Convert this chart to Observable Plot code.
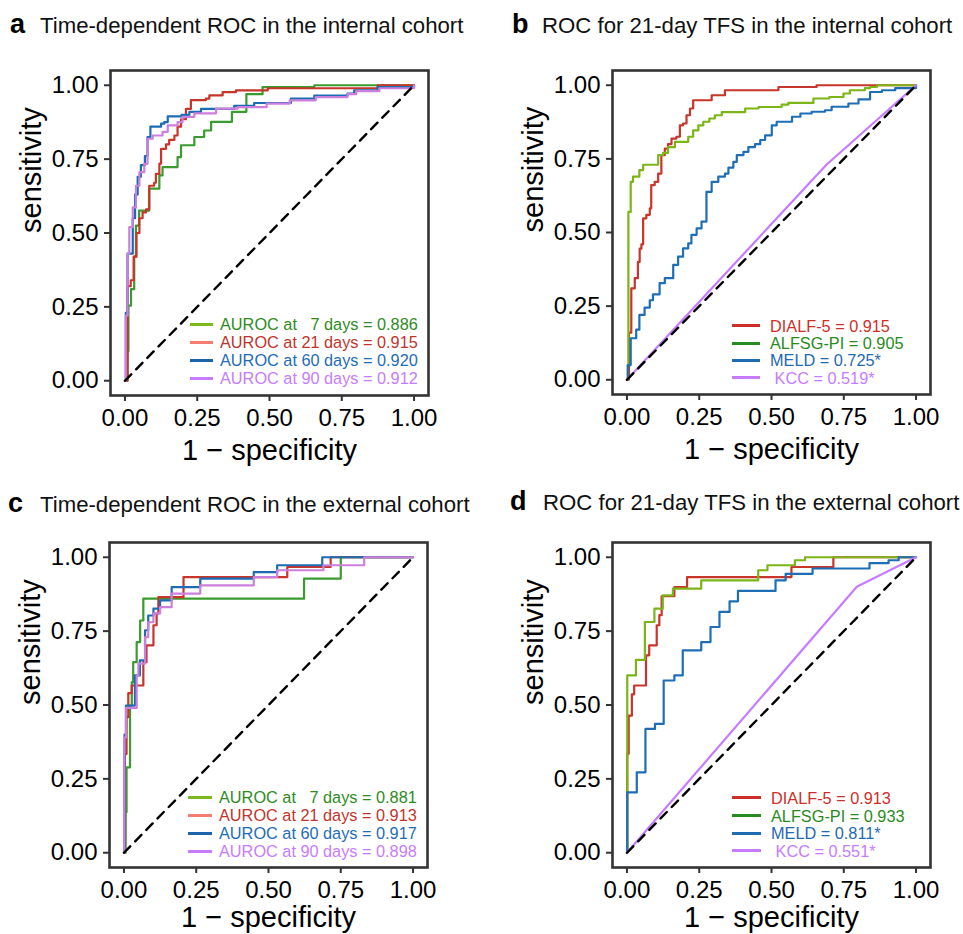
<!DOCTYPE html>
<html>
<head>
<meta charset="utf-8">
<script src="https://cdn.jsdelivr.net/npm/d3@7"></script>
<script src="https://cdn.jsdelivr.net/npm/@observablehq/plot@0.6"></script>
<style>
  body { margin: 0; background: #fff; }
  #wrap { position: relative; width: 963px; height: 934px; overflow: hidden; background: #fff;
          font-family: "Liberation Sans", Arial, Helvetica, sans-serif; }
  .panel { position: absolute; }
  .letter { position: absolute; font-size: 27px; font-weight: bold; line-height: 1; color: #000; }
  .title { position: absolute; font-size: 22.2px; line-height: 1; color: #111; white-space: nowrap; }
  .legend { position: absolute; font-size: 16.3px; }
  .legend .row { display: flex; align-items: center; height: 18px; line-height: 18px; white-space: pre; }
  .legend .sw { display: inline-block; height: 3px; }
</style>
</head>
<body>
<div id="wrap"></div>
<script>
// ---------- data ----------
const xTicks = [0, 0.25, 0.5, 0.75, 1];
const yTicks = [0, 0.25, 0.5, 0.75, 1];
const tickLabels = ["0.00", "0.25", "0.50", "0.75", "1.00"];
const xTitle = "1 \u2212 specificity";
const yTitle = "sensitivity";
const diagonal = [[0, 0], [1, 1]];

const panelLetters = ["a", "b", "c", "d"];
const panelTitles = [
  "Time-dependent ROC in the internal cohort",
  "ROC for 21-day TFS in the internal cohort",
  "Time-dependent ROC in the external cohort",
  "ROC for 21-day TFS in the external cohort"
];

// Panel a: time-dependent ROC, internal cohort  [1 - specificity, sensitivity]
const a7 = [[0,0],[0.009,0.10],[0.012,0.254],[0.021,0.31],[0.032,0.42],[0.038,0.525],[0.049,0.576],[0.084,0.65],[0.119,0.695],[0.13,0.723],[0.182,0.757],[0.194,0.797],[0.24,0.825],[0.274,0.847],[0.298,0.876],[0.37,0.91],[0.42,0.97],[0.476,0.994],[0.655,1],[1,1]];
const a21 = [[0,0],[0.009,0.32],[0.02,0.34],[0.03,0.42],[0.04,0.50],[0.05,0.55],[0.061,0.57],[0.073,0.58],[0.084,0.66],[0.101,0.67],[0.107,0.70],[0.119,0.735],[0.125,0.785],[0.142,0.80],[0.153,0.815],[0.171,0.83],[0.182,0.86],[0.194,0.885],[0.211,0.92],[0.228,0.95],[0.28,0.955],[0.292,0.966],[0.338,0.977],[0.384,0.983],[0.494,0.99],[0.874,1],[1,1]];
const a60 = [[0,0],[0.003,0.23],[0.009,0.43],[0.027,0.55],[0.035,0.63],[0.044,0.69],[0.055,0.73],[0.069,0.76],[0.078,0.825],[0.088,0.86],[0.125,0.87],[0.136,0.875],[0.148,0.895],[0.196,0.90],[0.223,0.91],[0.263,0.92],[0.378,0.93],[0.447,0.94],[0.574,0.955],[0.655,0.965],[0.77,0.972],[0.793,0.983],[0.874,0.994],[1,1]];
const a90 = [[0,0],[0.003,0.22],[0.009,0.43],[0.015,0.52],[0.027,0.587],[0.038,0.66],[0.05,0.706],[0.067,0.734],[0.078,0.819],[0.096,0.83],[0.13,0.842],[0.148,0.864],[0.182,0.875],[0.199,0.893],[0.24,0.905],[0.315,0.921],[0.39,0.926],[0.49,0.938],[0.57,0.949],[0.66,0.96],[0.77,0.97],[0.80,0.98],[0.88,0.99],[1,1]];

// Panel b: 21-day TFS, internal cohort
const bDialf = [[0,0],[0.007,0.16],[0.015,0.31],[0.027,0.345],[0.038,0.40],[0.044,0.445],[0.05,0.46],[0.056,0.548],[0.067,0.56],[0.079,0.582],[0.084,0.661],[0.096,0.672],[0.108,0.70],[0.119,0.763],[0.131,0.785],[0.142,0.80],[0.154,0.819],[0.171,0.825],[0.183,0.864],[0.194,0.87],[0.206,0.898],[0.218,0.921],[0.229,0.949],[0.293,0.966],[0.339,0.983],[0.524,0.994],[0.656,1],[1,1]];
const bAlfsg = [[0,0],[0.003,0.05],[0.005,0.57],[0.013,0.672],[0.021,0.69],[0.043,0.712],[0.056,0.73],[0.108,0.763],[0.125,0.77],[0.142,0.79],[0.166,0.808],[0.212,0.825],[0.229,0.847],[0.247,0.864],[0.264,0.876],[0.285,0.887],[0.304,0.898],[0.328,0.909],[0.409,0.921],[0.455,0.926],[0.535,0.934],[0.558,0.94],[0.645,0.955],[0.70,0.96],[0.749,0.972],[0.771,0.983],[0.823,0.99],[0.841,0.994],[0.865,1],[1,1]];
const bMeld = [[0,0],[0.003,0.05],[0.013,0.141],[0.032,0.17],[0.043,0.22],[0.061,0.245],[0.079,0.27],[0.09,0.29],[0.113,0.328],[0.131,0.345],[0.16,0.39],[0.177,0.418],[0.194,0.446],[0.212,0.463],[0.223,0.492],[0.241,0.514],[0.258,0.537],[0.275,0.638],[0.293,0.672],[0.316,0.69],[0.339,0.70],[0.351,0.72],[0.368,0.74],[0.38,0.763],[0.403,0.774],[0.42,0.79],[0.443,0.80],[0.461,0.814],[0.478,0.83],[0.501,0.864],[0.518,0.876],[0.571,0.893],[0.60,0.904],[0.639,0.91],[0.685,0.915],[0.708,0.927],[0.766,0.938],[0.801,0.952],[0.841,0.977],[0.882,0.983],[0.928,0.99],[1,1]];
const bKcc = [[0,0],[0.69,0.73],[1,1]];

// Panel c: time-dependent ROC, external cohort
const c7 = [[0,0],[0.006,0.137],[0.009,0.289],[0.021,0.498],[0.027,0.577],[0.032,0.645],[0.044,0.713],[0.056,0.786],[0.067,0.86],[0.623,0.928],[0.75,1],[1,1]];
const c21 = [[0,0],[0.003,0.334],[0.009,0.459],[0.015,0.54],[0.027,0.566],[0.067,0.645],[0.078,0.702],[0.102,0.77],[0.113,0.809],[0.119,0.865],[0.206,0.933],[0.565,0.967],[0.715,1],[1,1]];
const c60 = [[0,0],[0.002,0.40],[0.007,0.498],[0.038,0.60],[0.055,0.651],[0.073,0.753],[0.084,0.803],[0.102,0.826],[0.125,0.854],[0.165,0.899],[0.264,0.928],[0.449,0.95],[0.53,0.973],[0.686,1],[1,1]];
const c90 = [[0,0],[0.001,0.39],[0.007,0.49],[0.044,0.60],[0.05,0.64],[0.073,0.73],[0.084,0.78],[0.102,0.81],[0.125,0.831],[0.165,0.877],[0.264,0.905],[0.449,0.933],[0.53,0.956],[0.69,0.973],[0.831,1],[1,1]];

// Panel d: 21-day TFS, external cohort
const dDialf = [[0,0],[0.001,0.335],[0.006,0.464],[0.017,0.536],[0.025,0.566],[0.066,0.668],[0.077,0.702],[0.103,0.77],[0.112,0.804],[0.12,0.868],[0.164,0.899],[0.208,0.933],[0.569,0.967],[0.714,1],[1,1]];
const dAlfsg = [[0,0],[0.001,0.60],[0.031,0.653],[0.062,0.781],[0.095,0.826],[0.124,0.871],[0.159,0.894],[0.257,0.922],[0.454,0.956],[0.486,0.973],[0.581,0.99],[0.616,1],[1,1]];
const dMeld = [[0,0],[0.001,0.204],[0.034,0.272],[0.064,0.419],[0.097,0.436],[0.127,0.583],[0.164,0.60],[0.193,0.685],[0.257,0.713],[0.289,0.764],[0.32,0.815],[0.355,0.851],[0.384,0.886],[0.514,0.922],[0.549,0.944],[0.642,0.962],[0.839,0.98],[0.905,0.99],[0.94,1],[1,1]];
const dKcc = [[0,0],[0.795,0.90],[1,1]];

const legendA = ["AUROC at   7 days = 0.886", "AUROC at 21 days = 0.915", "AUROC at 60 days = 0.920", "AUROC at 90 days = 0.912"];
const legendB = ["DIALF-5 = 0.915", "ALFSG-PI = 0.905", "MELD = 0.725*", " KCC = 0.519*"];
const legendC = ["AUROC at   7 days = 0.881", "AUROC at 21 days = 0.913", "AUROC at 60 days = 0.917", "AUROC at 90 days = 0.898"];
const legendD = ["DIALF-5 = 0.913", "ALFSG-PI = 0.933", "MELD = 0.811*", " KCC = 0.551*"];

// ---------- styles ----------
const timeLine = ["#3A9B2E", "#C8352B", "#1C6CB4", "#CC7FDC"];
const timeSwatch = ["#7DB81E", "#F47C70", "#1C64AC", "#C77CFF"];
const timeText = ["#2E8B22", "#C0352B", "#1F6CB7", "#C77CFF"];
const scoreLine = ["#C8352B", "#7CB518", "#1F6EB5", "#C77CFF"];
const scoreSwatch = ["#CC2F2A", "#2A8A22", "#1F6AB0", "#C77CFF"];
const scoreText = ["#CC2F2A", "#2A8A22", "#1F6AB0", "#C77CFF"];

const panels = [
  { left: 0, top: 0, width: 480, height: 470, ml: 110, mr: 52, mt: 70, mb: 75, xdy: 55,
    series: [a7, a21, a60, a90], curves: ["step-after","step-after","step-after","step-after"],
    lineColors: timeLine, legend: legendA, sw: timeSwatch, tc: timeText,
    letterPos: [10, 11], titlePos: [40, 15], legendPos: [190, 315], swW: 23, gap: 7, rowH: 18 },
  { left: 480, top: 0, width: 483, height: 470, ml: 132, mr: 33, mt: 70, mb: 76, xdy: 55,
    series: [bDialf, bAlfsg, bMeld, bKcc], curves: ["step-after","step-after","step-after","linear"],
    lineColors: scoreLine, legend: legendB, sw: scoreSwatch, tc: scoreText,
    letterPos: [512, 11], titlePos: [542, 15], legendPos: [732, 317], swW: 28, gap: 10, rowH: 17.4 },
  { left: 0, top: 470, width: 480, height: 464, ml: 109, mr: 53, mt: 72, mb: 67, xdy: 50,
    series: [c7, c21, c60, c90], curves: ["step-after","step-after","step-after","step-after"],
    lineColors: timeLine, legend: legendC, sw: timeSwatch, tc: timeText,
    letterPos: [8, 490], titlePos: [40, 494], legendPos: [188, 788], swW: 24, gap: 7, rowH: 18 },
  { left: 480, top: 470, width: 483, height: 464, ml: 132, mr: 33, mt: 72, mb: 67, xdy: 50,
    series: [dDialf, dAlfsg, dMeld, dKcc], curves: ["step-after","step-after","step-after","linear"],
    lineColors: scoreLine, legend: legendD, sw: scoreSwatch, tc: scoreText,
    letterPos: [510, 488], titlePos: [543, 492], legendPos: [732, 789], swW: 29, gap: 10, rowH: 17.7 }
];

const wrap = document.getElementById("wrap");
const font = '"Liberation Sans", Arial, Helvetica, sans-serif';

panels.forEach((p, i) => {
  const marks = [
    Plot.frame({ stroke: "#333", strokeWidth: 2.6 }),
    ...p.series.map((s, k) => Plot.line(s, {
      x: d => d[0], y: d => d[1], stroke: p.lineColors[k], strokeWidth: 2.2, curve: p.curves[k]
    })),
    Plot.line(diagonal, { x: d => d[0], y: d => d[1], stroke: "black", strokeWidth: 2.4, strokeDasharray: "9,7" }),
    Plot.axisX(xTicks, { tickSize: 6, tickPadding: 7, fontSize: 24, stroke: "#333", strokeWidth: 2, fill: "black",
      tickFormat: (d) => tickLabels[xTicks.indexOf(d)], label: null }),
    Plot.axisY(yTicks, { tickSize: 6, tickPadding: 6, fontSize: 24, stroke: "#333", strokeWidth: 2, fill: "black",
      tickFormat: (d) => tickLabels[yTicks.indexOf(d)], label: null }),
    Plot.text([xTitle], { text: d => d, frameAnchor: "bottom", dy: p.xdy, fontSize: 29, fill: "black", lineAnchor: "middle" }),
    Plot.text([yTitle], { text: d => d, frameAnchor: "left", dx: -79, rotate: -90, fontSize: 29, fill: "black", lineAnchor: "middle" })
  ];
  const chart = Plot.plot({
    width: p.width, height: p.height,
    marginLeft: p.ml, marginRight: p.mr, marginTop: p.mt, marginBottom: p.mb,
    x: { domain: [-0.05, 1.05] },
    y: { domain: [-0.05, 1.05] },
    style: { fontFamily: font, background: "white", color: "black", overflow: "visible" },
    marks
  });
  const holder = document.createElement("div");
  holder.className = "panel";
  holder.style.left = p.left + "px";
  holder.style.top = p.top + "px";
  holder.appendChild(chart);
  wrap.appendChild(holder);

  const letter = document.createElement("div");
  letter.className = "letter";
  letter.textContent = panelLetters[i];
  letter.style.left = p.letterPos[0] + "px";
  letter.style.top = p.letterPos[1] + "px";
  wrap.appendChild(letter);

  const title = document.createElement("div");
  title.className = "title";
  title.textContent = panelTitles[i];
  title.style.left = p.titlePos[0] + "px";
  title.style.top = p.titlePos[1] + "px";
  wrap.appendChild(title);

  const lg = document.createElement("div");
  lg.className = "legend";
  lg.style.left = p.legendPos[0] + "px";
  lg.style.top = p.legendPos[1] + "px";
  p.legend.forEach((t, k) => {
    const row = document.createElement("div");
    row.className = "row";
    row.style.height = p.rowH + "px";
    const sw = document.createElement("span");
    sw.className = "sw";
    sw.style.width = p.swW + "px";
    sw.style.background = p.sw[k];
    sw.style.marginRight = p.gap + "px";
    const tx = document.createElement("span");
    tx.textContent = t;
    tx.style.color = p.tc[k];
    row.appendChild(sw);
    row.appendChild(tx);
    lg.appendChild(row);
  });
  wrap.appendChild(lg);
});
</script>
</body>
</html>
